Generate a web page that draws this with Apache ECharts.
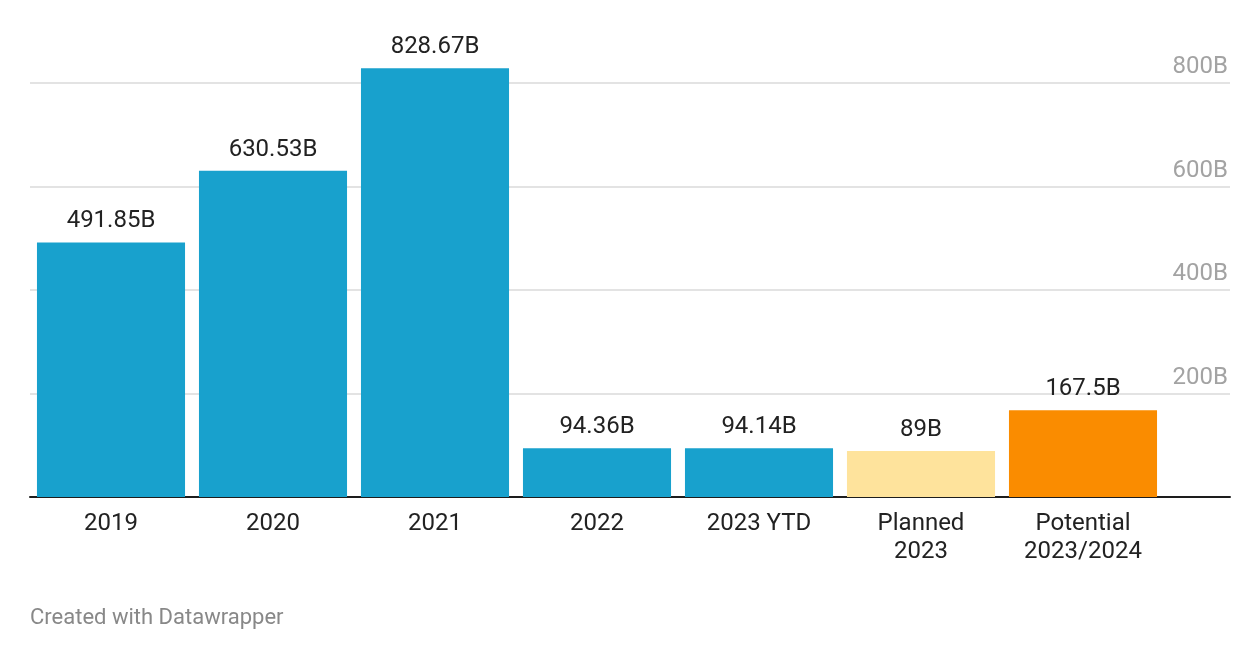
<!DOCTYPE html>
<html>
<head>
<meta charset="utf-8">
<script src="https://cdn.jsdelivr.net/npm/echarts@6/dist/echarts.min.js"></script>
<style>
html,body{margin:0;padding:0;background:#fff;}
#c{width:1260px;height:660px;}
</style>
</head>
<body>
<div id="c"></div>
<script>
const categories = ['2019', '2020', '2021', '2022', '2023 YTD', 'Planned\n2023', 'Potential\n2023/2024'];
const values = [491.85, 630.53, 828.67, 94.36, 94.14, 89, 167.5];
const valueLabels = ['491.85B', '630.53B', '828.67B', '94.36B', '94.14B', '89B', '167.5B'];
const barColors = ['#18a1cd', '#18a1cd', '#18a1cd', '#18a1cd', '#18a1cd', '#fee39c', '#fa8c00'];
const yTicks = [0, 200, 400, 600, 800];

const FONT = 'Roboto';
const chart = echarts.init(document.getElementById('c'), null, {renderer: 'canvas'});
chart.setOption({
  animation: false,
  backgroundColor: '#ffffff',
  textStyle: {fontFamily: FONT},
  title: {
    text: 'Created with Datawrapper',
    left: 30, top: 607,
    padding: 0,
    textStyle: {fontFamily: FONT, fontSize: 22, fontWeight: 'normal', color: '#888888'}
  },
  grid: [
    {left: 30, right: 30, top: 83, bottom: 163},
    {left: 30, right: 96, top: 83, bottom: 163}
  ],
  xAxis: [
    {gridIndex: 0, type: 'value', min: 0, max: 1, show: true,
     axisLine: {show: true, onZero: false, lineStyle: {color: '#1d1d1d', width: 2}},
     axisTick: {show: false}, axisLabel: {show: false}, splitLine: {show: false}},
    {gridIndex: 1, type: 'category', data: categories,
     axisLine: {show: false}, axisTick: {show: false},
     axisLabel: {color: '#222222', fontFamily: FONT, fontSize: 24, lineHeight: 28, margin: 13, interval: 0}}
  ],
  yAxis: [
    {gridIndex: 0, type: 'value', min: yTicks[0], max: yTicks[yTicks.length - 1], interval: 200,
     position: 'right',
     axisLine: {show: false}, axisTick: {show: false},
     splitLine: {show: true, lineStyle: {color: '#e3e3e3', width: 2}},
     axisLabel: {inside: true, margin: 2, color: '#a3a3a3', fontFamily: FONT, fontSize: 24,
       verticalAlign: 'bottom', padding: [0, 0, 4, 0],
       formatter: v => (v === 0 ? '' : v + 'B')}},
    {gridIndex: 1, type: 'value', min: yTicks[0], max: yTicks[yTicks.length - 1], show: false}
  ],
  series: [{
    type: 'bar',
    xAxisIndex: 1, yAxisIndex: 1,
    clip: false,
    barCategoryGap: '8.6%',
    data: values.map((v, i) => ({value: v, itemStyle: {color: barColors[i]}})),
    label: {
      show: true, position: 'top', distance: 9,
      color: '#222222', fontFamily: FONT, fontSize: 24,
      formatter: p => valueLabels[p.dataIndex]
    }
  }]
});
</script>
</body>
</html>
